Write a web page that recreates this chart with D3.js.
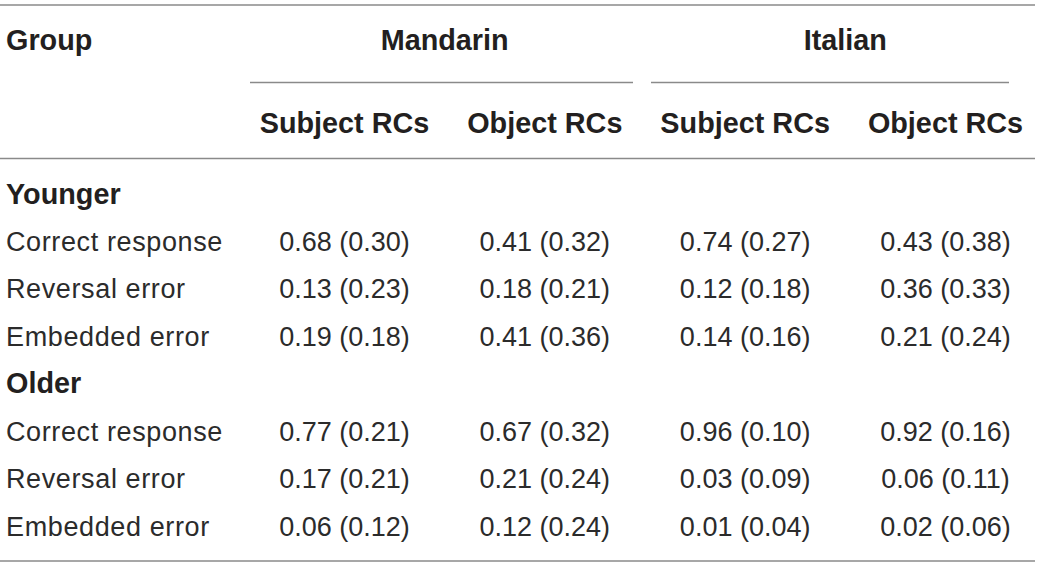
<!DOCTYPE html>
<html><head><meta charset="utf-8">
<script src="https://cdn.jsdelivr.net/npm/d3@7"></script>
<style>
html,body{margin:0;padding:0;background:#fff;}
svg{display:block;}
</style></head>
<body>
<svg id="chart" width="1040" height="567"></svg>
<script>
// ---- data ----
const groupHeader = "Group";
const languages = ["Mandarin", "Italian"];
const clauseTypes = ["Subject RCs", "Object RCs"];
const ageGroups = ["Younger", "Older"];
const measures = ["Correct response", "Reversal error", "Embedded error"];
// columns: Mandarin Subject, Mandarin Object, Italian Subject, Italian Object
const youngerMeans = [[0.68, 0.41, 0.74, 0.43], [0.13, 0.18, 0.12, 0.36], [0.19, 0.41, 0.14, 0.21]];
const youngerSDs   = [[0.30, 0.32, 0.27, 0.38], [0.23, 0.21, 0.18, 0.33], [0.18, 0.36, 0.16, 0.24]];
const olderMeans   = [[0.77, 0.67, 0.96, 0.92], [0.17, 0.21, 0.03, 0.06], [0.06, 0.12, 0.01, 0.02]];
const olderSDs     = [[0.21, 0.32, 0.10, 0.16], [0.21, 0.24, 0.09, 0.11], [0.12, 0.24, 0.04, 0.06]];

// ---- layout ----
const svg = d3.select("#chart");
const textColor = "#231f20";
const lightText = "#2b2b2b";
const lineColor = "#8a8a8a";
const fontFam = "'Liberation Sans', Arial, Helvetica, sans-serif";
const boldSize = 28.8;

const colKeys = [];
languages.forEach(l => clauseTypes.forEach(c => colKeys.push(l + "|" + c)));
const x = d3.scalePoint().domain(colKeys).range([344.5, 945.5]);
const langCenter = l => (x(l + "|" + clauseTypes[0]) + x(l + "|" + clauseTypes[1])) / 2;

// body rows (row index -> baseline)
const bodyRows = [];
ageGroups.forEach((g, gi) => {
  bodyRows.push({type: "group", label: g});
  const means = gi === 0 ? youngerMeans : olderMeans;
  const sds = gi === 0 ? youngerSDs : olderSDs;
  measures.forEach((m, mi) => bodyRows.push({type: "measure", label: m, means: means[mi], sds: sds[mi]}));
});
const y = d3.scaleLinear().domain([0, bodyRows.length - 1]).range([203.5, 535.5]);

// rules
const rules = [
  {x1: 0, x2: 1035, y: 5},
  {x1: 0, x2: 1035, y: 158.5},
  {x1: 0, x2: 1035, y: 561}
];
svg.selectAll("line.rule").data(rules).enter().append("line")
  .attr("class", "rule")
  .attr("x1", d => d.x1).attr("x2", d => d.x2)
  .attr("y1", d => d.y).attr("y2", d => d.y)
  .attr("stroke", lineColor).attr("stroke-width", 1.6);

// language spanner lines
const spanExt = [[250, 633], [651, 1009]];
svg.selectAll("line.span").data(languages).enter().append("line")
  .attr("class", "span")
  .attr("x1", (d, i) => spanExt[i][0]).attr("x2", (d, i) => spanExt[i][1])
  .attr("y1", 82.5).attr("y2", 82.5)
  .attr("stroke", lineColor).attr("stroke-width", 1.6);

// header texts
svg.append("text").text(groupHeader)
  .attr("x", 6).attr("y", 50)
  .attr("font-family", fontFam).attr("font-weight", "bold").attr("font-size", boldSize)
  .attr("fill", textColor);

svg.selectAll("text.lang").data(languages).enter().append("text")
  .attr("class", "lang").text(d => d)
  .attr("x", d => langCenter(d)).attr("y", 50)
  .attr("text-anchor", "middle")
  .attr("font-family", fontFam).attr("font-weight", "bold").attr("font-size", boldSize)
  .attr("fill", textColor);

svg.selectAll("text.ctype").data(colKeys).enter().append("text")
  .attr("class", "ctype").text(d => d.split("|")[1])
  .attr("x", d => x(d)).attr("y", 133)
  .attr("text-anchor", "middle")
  .attr("font-family", fontFam).attr("font-weight", "bold").attr("font-size", boldSize)
  .attr("fill", textColor);

// body
const rowG = svg.selectAll("g.row").data(bodyRows).enter().append("g")
  .attr("class", "row")
  .attr("transform", (d, i) => `translate(0,${y(i)})`);

rowG.append("text").text(d => d.label)
  .attr("x", 6).attr("y", 0)
  .attr("font-family", fontFam)
  .attr("font-weight", d => d.type === "group" ? "bold" : "normal")
  .attr("font-size", d => d.type === "group" ? boldSize : 27)
  .attr("letter-spacing", d => d.type === "group" ? 0 : 0.62)
  .attr("fill", d => d.type === "group" ? textColor : lightText);

const fmt = d3.format(".2f");
rowG.filter(d => d.type === "measure").selectAll("text.val")
  .data(d => colKeys.map((k, i) => ({k, m: d.means[i], s: d.sds[i]})))
  .enter().append("text")
  .attr("class", "val")
  .text(d => `${fmt(d.m)} (${fmt(d.s)})`)
  .attr("x", d => x(d.k)).attr("y", 0)
  .attr("text-anchor", "middle")
  .attr("font-family", fontFam).attr("font-size", 27)
  .attr("fill", lightText);
</script>
</body></html>
